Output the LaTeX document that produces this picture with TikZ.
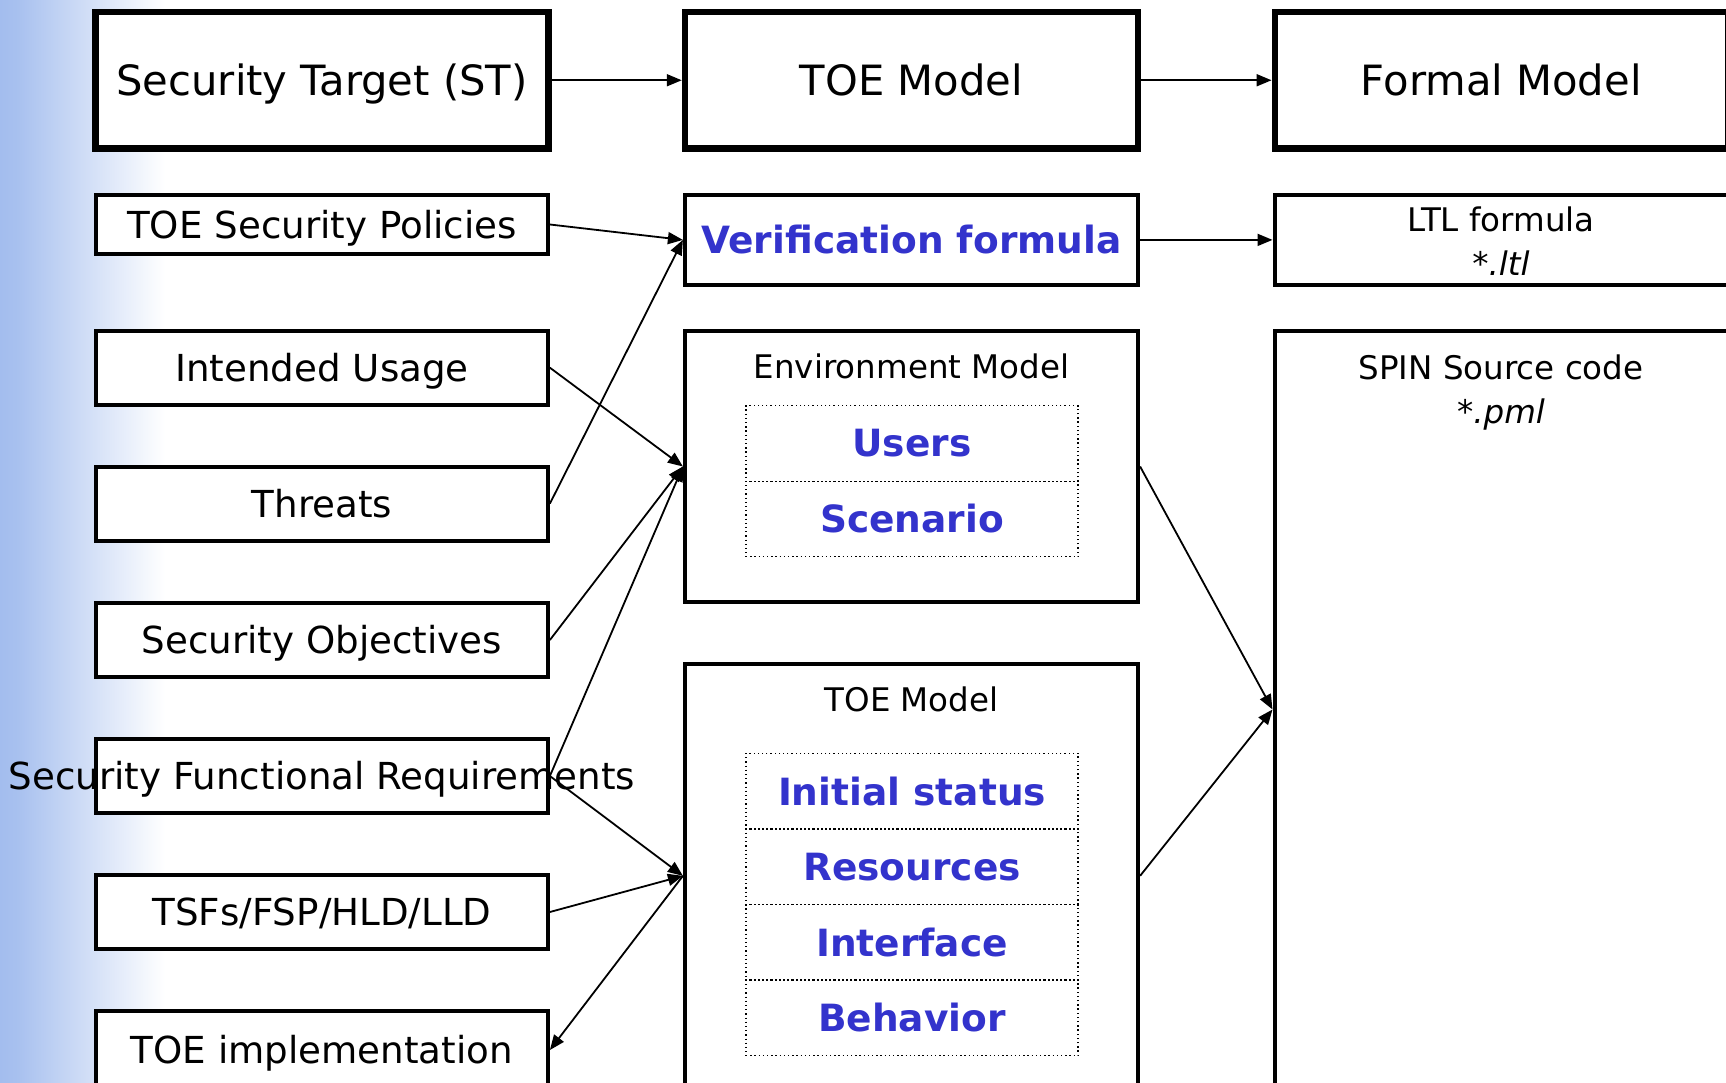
\documentclass[tikz,border=0pt]{standalone}
\usepackage{fontspec}
\setmainfont{DejaVu Sans}
\usetikzlibrary{arrows.meta}
\definecolor{ftblue}{RGB}{51,51,204}
\definecolor{bgblue}{RGB}{163,189,238}
\pgfdeclarehorizontalshading{sidefade}{100bp}{color(0bp)=(bgblue); color(25bp)=(bgblue); color(30bp)=(bgblue!95!white); color(75bp)=(white); color(100bp)=(white)}

\begin{document}
\begin{tikzpicture}[x=1pt, y=-1pt,
    bigbox/.style={draw, line width=6.5pt, fill=white, minimum width=453pt, minimum height=136.5pt, inner sep=0pt, text height=31pt, text depth=0pt, font=\fontsize{41.7}{50}\selectfont},
    leftbox/.style={draw, line width=3.8pt, fill=white, minimum width=452pt, minimum height=74pt, inner sep=0pt, text height=27.5pt, text depth=0pt, font=\fontsize{37.2}{44}\selectfont},
    midbox/.style={draw, line width=4.2pt, fill=white, minimum width=453pt, inner sep=0pt},
    cell/.style={draw, dash pattern=on 1.3pt off 2.9pt, line width=1.3pt, minimum width=332pt, minimum height=75.6pt, inner sep=0pt, text=ftblue, font=\fontsize{37.5}{44}\selectfont\bfseries},
    smalltxt/.style={inner sep=0pt, font=\fontsize{32.5}{40}\selectfont},
    arr/.style={-{Triangle[length=15pt,width=12pt]}, line width=1.8pt}]

    % 画布与左侧渐变背景
    \useasboundingbox (0,0) rectangle (1726,1083);
    \clip (0,0) rectangle (1726,1083);
    \shade[shading=sidefade] (0,0) rectangle (165,1083);

    % 第一行：三个主框
    \node[bigbox] (st) at (322,80.25) {Security Target (ST)};
    \node[bigbox] (toe) at (911.5,80.25) {TOE Model};
    \node[bigbox] (formal) at (1501.3,80.25) {Formal Model};

    % 左列：ST 的各部分
    \node[leftbox, minimum height=59.6pt] (tsp) at (322,224.5) {TOE Security Policies};
    \node[leftbox] (usage) at (322,367.7) {Intended Usage};
    \node[leftbox] (threat) at (322,503.6) {Threats};
    \node[leftbox] (obj) at (322,640) {Security Objectives};
    \node[leftbox] (sfr) at (322,776) {\makebox[0pt]{Security Functional Requirements}};
    \node[leftbox] (tsf) at (322,912) {TSFs/FSP/HLD/LLD};
    \node[leftbox, minimum height=78pt] (impl) at (322,1050) {TOE implementation};

    % 中列：验证公式、环境模型、TOE 模型
    \node[midbox, minimum height=90.3pt, text=ftblue, font=\fontsize{37.5}{44}\selectfont\bfseries] (verif) at (911.5,239.9) {Verification formula};

    \node[midbox, minimum height=271pt] (env) at (911.5,466.5) {};
    \node[smalltxt] (envtitle) at (911.5,366.7) {Environment Model};
    \node[cell] (users) at (912,443.5) {Users};
    \node[cell] (scen) at (912,519) {Scenario};

    \node[midbox, minimum height=424.3pt] (toelow) at (911.5,875.85) {};
    \node[smalltxt] (toetitle) at (911.5,699.3) {TOE Model};
    \foreach \lbl [count=\k] in {Initial status, Resources, Interface, Behavior}
        \node[cell] (part\k) at (912,{753.3+75.6*(\k-0.5)}) {\lbl};

    % 右列：LTL 与 SPIN
    \node[midbox, minimum width=454.4pt, minimum height=90.3pt] (ltl) at (1501.8,239.9) {};
    \node[smalltxt, anchor=base] (ltlname) at (1501,231.7) {LTL formula};
    \node[smalltxt, anchor=base] (ltlext) at (1501,276) {\itshape *.ltl};
    \node[midbox, minimum width=454.4pt, minimum height=757pt] (spin) at (1501.8,709.5) {};
    \node[smalltxt, anchor=base] (spinname) at (1501,379) {SPIN Source code};
    \node[smalltxt, anchor=base] (spinext) at (1501,423) {\itshape *.pml};

    % 箭头
    \draw[arr] (st) -- (toe);
    \draw[arr] (toe) -- (formal);
    \draw[arr] (verif) -- (ltl);
    \draw[arr] (tsp.east) -- (verif.west);
    \draw[arr] (threat.east) -- (verif.west);
    \draw[arr] (usage.east) -- (env.west);
    \draw[arr] (obj.east) -- (env.west);
    \draw[arr] (sfr.east) -- (env.west);
    \draw[arr] (sfr.east) -- (toelow.west);
    \draw[arr] (tsf.east) -- (toelow.west);
    \draw[arr] (toelow.west) -- (impl.east);
    \draw[arr] (env.east) -- (spin.west);
    \draw[arr] (toelow.east) -- (spin.west);
\end{tikzpicture}
\end{document}
